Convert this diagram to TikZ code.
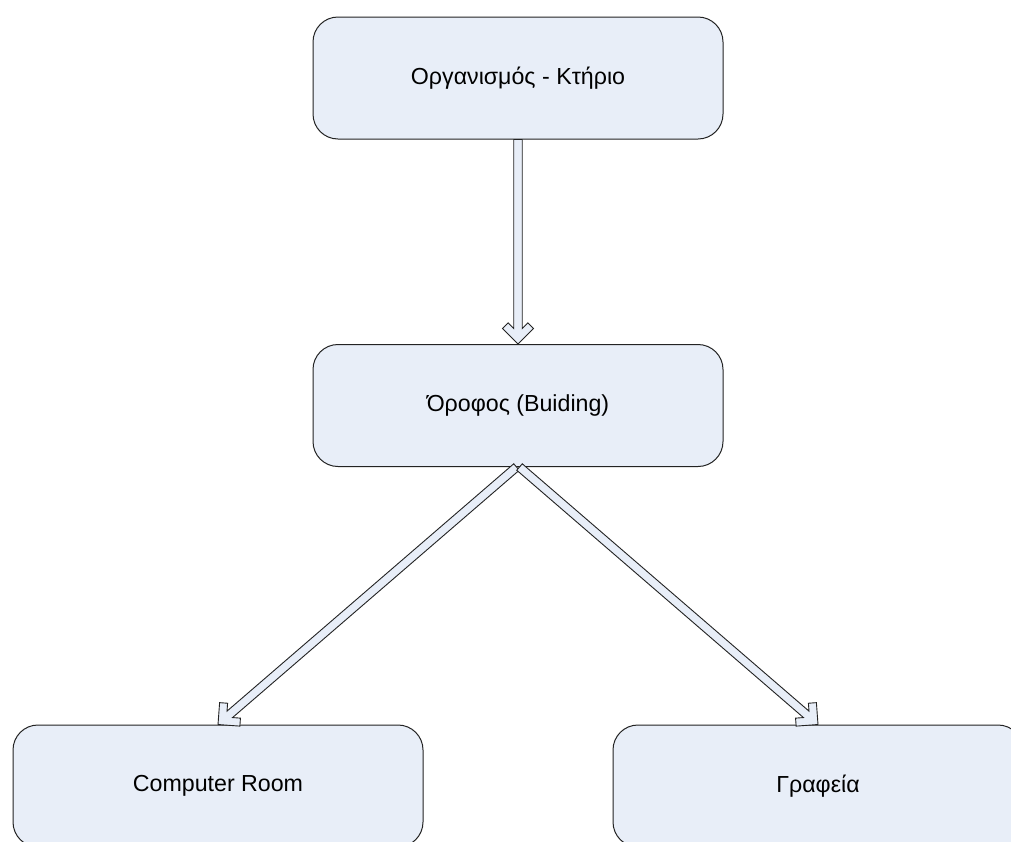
\documentclass[tikz,border=0pt]{standalone}
\usepackage{fontspec}
\setmainfont{Liberation Sans}
\usetikzlibrary{calc}

\definecolor{boxfill}{RGB}{232,238,248}
\definecolor{edge}{RGB}{35,35,35}

\tikzset{
  levelbox/.style={draw=edge, line width=1pt, fill=boxfill, rounded corners=25pt,
    minimum width=410pt, minimum height=122pt, inner sep=0pt,
    font=\fontsize{23.2}{28}\selectfont},
  arrowbody/.style={draw=edge, line width=0.9pt, fill=boxfill, line join=miter}
}

% Hollow block arrow with a chevron head, from node anchor #1 to node anchor #2
\newcommand\hollowarrow[2]{%
  \draw[arrowbody] let \p1=(#1), \p2=(#2), \n1={atan2(\y2-\y1,\x2-\x1)} in
    (\p2)
    -- ($(\p2)+(\n1+180:15.5pt)+(\n1+90:15.5pt)$)
    -- ($(\p2)+(\n1+180:21.16pt)+(\n1+90:9.84pt)$)
    -- ($(\p2)+(\n1+180:15.57pt)+(\n1+90:4.25pt)$)
    -- ($(\p1)+(\n1+90:4.25pt)$)
    -- ($(\p1)+(\n1-90:4.25pt)$)
    -- ($(\p2)+(\n1+180:15.57pt)+(\n1-90:4.25pt)$)
    -- ($(\p2)+(\n1+180:21.16pt)+(\n1-90:9.84pt)$)
    -- ($(\p2)+(\n1+180:15.5pt)+(\n1-90:15.5pt)$)
    -- cycle;
}

\begin{document}
\begin{tikzpicture}[x=1pt, y=-1pt]
  \useasboundingbox (0,0) rectangle (1011,841);
  \fill[white] (0,0) rectangle (1011,841);
  \clip (0,0) rectangle (1011,841);

  \node[levelbox] (org)    at (518,78)    {Οργανισμός - Κτήριο};
  \node[levelbox] (floor)  at (518,405.5) {Όροφος (Buiding)};
  \node[levelbox] (comp)   at (218,786)   {Computer Room};
  \node[levelbox] (office) at (818,786)   {Γραφεία};

  \coordinate (fleft)  at ($(floor.south)+(-1.5,0)$);
  \coordinate (fright) at ($(floor.south)+(1.5,0)$);

  \hollowarrow{org.south}{floor.north}
  \hollowarrow{fleft}{comp.north}
  \hollowarrow{fright}{office.north}
\end{tikzpicture}
\end{document}
